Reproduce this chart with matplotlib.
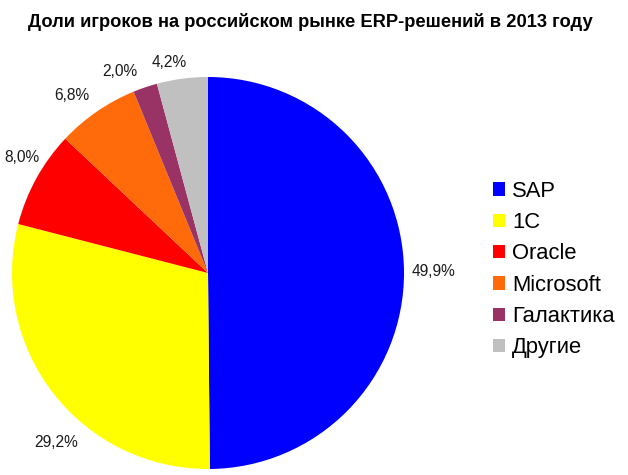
import matplotlib
matplotlib.use("Agg")
import matplotlib.pyplot as plt
import numpy as np

title = "Доли игроков на российском рынке ERP-решений в 2013 году"
categories = ["SAP", "1C", "Oracle", "Microsoft", "Галактика", "Другие"]
values = [49.9, 29.2, 8.0, 6.8, 2.0, 4.2]
labels = ["49,9%", "29,2%", "8,0%", "6,8%", "2,0%", "4,2%"]
colors = ["#0000FF", "#FFFF00", "#FF0000", "#FF6A0A", "#993366", "#C0C0C0"]

plt.rcParams['font.family'] = ['Liberation Sans', 'DejaVu Sans']

W, H = 628, 475
fig = plt.figure(figsize=(W / 100, H / 100), dpi=100)
ax = fig.add_axes([0, 0, 1, 1])

cx, cy, r = 208, H - 273, 196
wedges, texts = ax.pie(values, colors=colors, startangle=90, counterclock=False,
                       center=(cx, cy), radius=r, labels=labels, labeldistance=1.13,
                       wedgeprops=dict(linewidth=0),
                       textprops=dict(fontsize=11.2, color='#1a1a1a'))
ax.set_xlim(0, W)
ax.set_ylim(0, H)
ax.set_aspect('equal')
ax.axis('off')

# label angle adjustments (best-fit style placement)
offsets = [0, 10, -3, 3, 5, 3]
dists = [1.15, 1.16, 1.12, 1.14, 1.12, 1.09]
for w, t, off, d in zip(wedges, texts, offsets, dists):
    mid = np.deg2rad((w.theta1 + w.theta2) / 2 + off)
    t.set_position((cx + d * r * np.cos(mid), cy + d * r * np.sin(mid)))
    t.set_ha('center')
    t.set_va('center')

fig.text(0.495, 1 - 22 / H, title, ha='center', va='center', fontsize=13.25, fontweight='bold')

leg = ax.legend(wedges, categories, loc='upper left', bbox_to_anchor=(484 / W, 1 - 172 / H),
                bbox_transform=fig.transFigure,
                frameon=False, fontsize=15.8, handlelength=0.56, handleheight=0.56,
                handletextpad=0.32, labelspacing=0.47, borderaxespad=0)

fig.savefig("out.png", dpi=100)
